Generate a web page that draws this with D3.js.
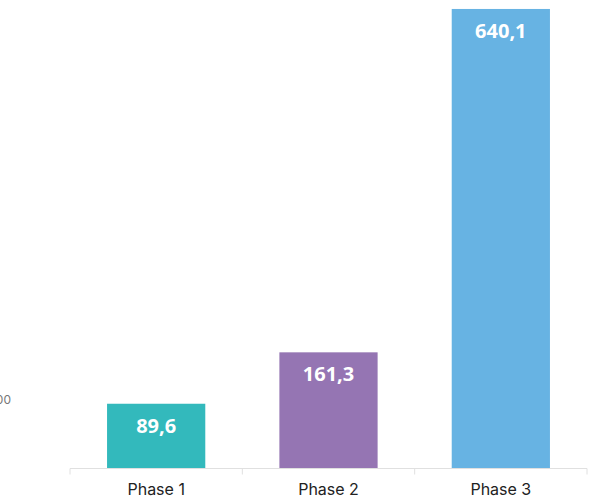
<!DOCTYPE html>
<html>
<head>
<meta charset="utf-8">
<script src="https://cdn.jsdelivr.net/npm/d3@7"></script>
<style>
  body { margin: 0; background: #fff; }
  svg { display: block; }
</style>
</head>
<body>
<div id="chart"></div>
<script>
// chart data
const phases = ['Phase 1', 'Phase 2', 'Phase 3'];
const values = [89.6, 161.3, 640.1];
const barColors = ['#33b9bc', '#9575b3', '#67b3e3'];
const yTicks = [100];

const width = 603;
const height = 499;
const margin = { top: 0, right: 16, bottom: 31, left: 70 };

const svg = d3.select('#chart')
  .append('svg')
  .attr('width', width)
  .attr('height', height);

const x = d3.scaleBand()
  .domain(phases)
  .range([margin.left, width - margin.right])
  .paddingInner(0.43)
  .paddingOuter(0.215);

const y = d3.scaleLinear()
  .domain([0, 652.6])
  .range([height - margin.bottom, margin.top]);

const fmt = v => d3.format('.1f')(v).replace('.', ',');

// y labels (cut off at the left edge, as in the original)
svg.selectAll('.ylab')
  .data(yTicks)
  .enter()
  .append('text')
  .attr('class', 'ylab')
  .attr('x', 11)
  .attr('y', d => y(d) + 8)
  .attr('text-anchor', 'end')
  .style('font-family', 'Inter, sans-serif')
  .style('font-size', '12px')
  .style('fill', '#777')
  .text(d => d);

// bars
svg.selectAll('rect.bar')
  .data(values)
  .enter()
  .append('rect')
  .attr('class', 'bar')
  .attr('x', (d, i) => x(phases[i]))
  .attr('y', d => y(d))
  .attr('width', x.bandwidth())
  .attr('height', d => y(0) - y(d))
  .style('fill', (d, i) => barColors[i]);

// value labels
svg.selectAll('text.val')
  .data(values)
  .enter()
  .append('text')
  .attr('class', 'val')
  .attr('x', (d, i) => x(phases[i]) + x.bandwidth() / 2)
  .attr('y', d => y(d) + 29)
  .attr('text-anchor', 'middle')
  .style('font-family', '"Open Sans", sans-serif')
  .style('font-weight', 'bold')
  .style('font-size', '20px')
  .style('fill', '#fff')
  .text(fmt);

// x axis
const xAxis = svg.append('g')
  .attr('transform', `translate(0,${y(0) + 0.5})`)
  .call(d3.axisBottom(x).tickSize(0).tickPadding(15));

xAxis.select('.domain').remove();
xAxis.append('line')
  .attr('x1', margin.left)
  .attr('x2', width - margin.right)
  .attr('stroke', '#e0e0e0');

const edges = d3.range(phases.length + 1).map(i => margin.left + i * (width - margin.left - margin.right) / phases.length);
xAxis.selectAll('.sep')
  .data(edges)
  .enter()
  .append('line')
  .attr('class', 'sep')
  .attr('x1', d => d)
  .attr('x2', d => d)
  .attr('y1', 0)
  .attr('y2', 6)
  .attr('stroke', '#e0e0e0');

xAxis.selectAll('.tick text')
  .style('font-family', 'Inter, sans-serif')
  .style('font-size', '16px')
  .style('fill', '#222');
</script>
</body>
</html>
